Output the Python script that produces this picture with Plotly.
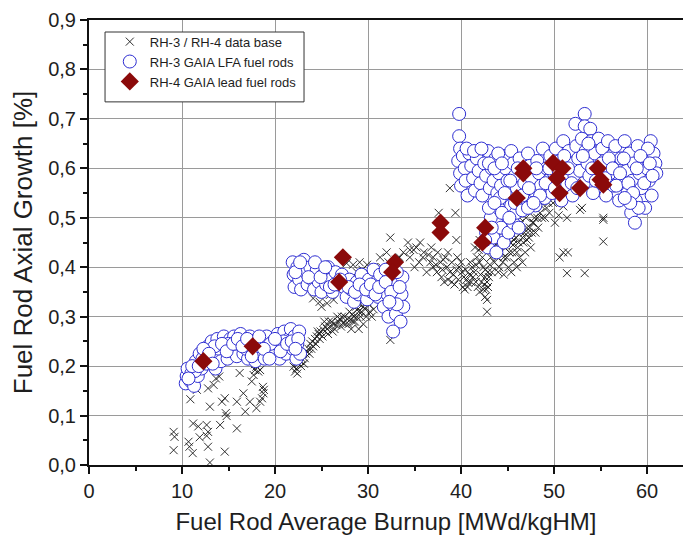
import plotly.graph_objects as go

# ---------------- data ----------------
# RH-3 / RH-4 data base (crosses)
db_x = [9.1, 9.2, 9.1, 10.7, 10.8, 11.15, 10.9, 11.2, 11.75, 11.9, 12.65, 12.8, 12.65, 12.8, 13.0,
        11.6, 12.8, 13.4, 13.0, 14.1, 14.3, 14.6, 14.0, 13.65, 14.7, 14.8, 14.6, 15.9, 15.9, 16.2,
        16.6, 16.8, 17.3, 17.5, 17.7, 17.85, 18.0, 18.0, 18.2, 18.4, 18.7, 18.8, 18.6, 18.4, 17.85, 18.75,
        22.0, 22.15, 22.3, 22.5, 22.7, 22.9, 23.0, 23.2, 23.4, 23.6, 23.8, 24.1, 24.3, 24.5, 24.7,
        24.9, 25.2, 25.4, 25.6, 25.9, 26.1, 26.3, 26.6, 26.8, 27.0, 27.3, 27.5, 27.8, 28.1, 28.3,
        28.5, 28.8, 29.0, 29.3, 29.5, 29.7, 29.9, 30.1, 30.3, 29.6, 29.2, 28.6, 27.9, 27.1, 26.4,
        25.7, 24.8, 23.9, 23.1,
        22.4, 22.8, 23.3, 23.7, 24.0, 24.4, 24.6, 25.1, 25.3, 25.8, 26.2, 26.7, 27.2, 27.6, 28.0,
        28.4, 28.9, 29.1, 29.4, 29.8, 30.0, 30.2, 28.7, 29.5, 30.4, 29.0, 28.2, 30.6,
        24.1, 24.8, 25.6, 26.3, 25.9, 25.0, 26.0, 26.3, 27.7, 28.4, 29.1, 29.9, 30.6, 31.3, 32.0,
        32.4, 34.3, 34.5, 33.4, 29.9, 28.8, 27.0, 32.4, 28.0, 28.5, 29.4, 30.3, 30.9, 31.5, 32.2,
        33.0, 33.8, 35.2, 35.6, 31.0, 30.5, 29.4, 31.4,
        38.8, 39.4, 37.6, 34.9, 35.9, 36.7, 36.3, 38.1, 38.5, 38.8, 39.5, 39.5, 40.6, 40.8, 41.7,
        42.0, 42.4, 42.6, 42.8, 41.9, 42.8, 42.8,
        36.0, 36.5, 37.0, 37.3, 37.8, 38.3, 38.0, 39.0, 39.2, 39.8, 40.1, 40.3, 40.5, 40.9, 41.2,
        41.4, 41.6, 42.1, 42.3, 42.6, 42.9, 43.1, 42.7, 42.5, 37.5, 36.8, 35.5, 34.5, 35.0, 40.0,
        41.0, 39.6, 38.6,
        37.0, 37.4, 37.9, 38.2, 38.6, 39.0, 39.3, 39.7, 40.2, 40.4, 40.7, 41.1, 41.3, 41.6, 41.8,
        42.0, 42.2, 42.4, 42.6, 42.9, 43.0, 43.2, 43.3, 42.2, 42.0, 41.5,
        43.6, 43.9, 44.1, 44.3, 44.5, 44.7, 44.9, 45.1, 45.3, 45.5, 45.7, 45.9, 46.1, 46.3, 46.5,
        46.7, 46.9, 47.1, 47.3, 47.5, 47.7, 47.4, 47.8, 48.0, 48.2, 48.5, 48.9, 49.5, 49.9, 50.1,
        50.5, 51.0, 51.4, 52.8, 53.0, 55.3, 55.3, 55.3, 50.6, 51.0, 51.5, 51.4, 53.3, 44.0, 44.6,
        45.4, 46.0, 46.6, 43.4, 44.2, 45.0, 45.8, 46.4, 47.0, 48.6, 49.2, 45.6, 44.8,
        43.8, 44.0, 44.4, 44.6, 44.9, 45.2, 45.4, 45.7, 46.0, 46.2, 46.6, 46.8, 47.1, 47.2, 47.6,
        47.9, 48.3, 48.7, 49.0, 49.4, 46.3, 45.3, 44.5, 43.7]
db_y = [0.067, 0.057, 0.030, 0.047, 0.037, 0.024, 0.133, 0.084, 0.078, 0.056, 0.081, 0.067, 0.059, 0.037, 0.005,
        0.152, 0.155, 0.162, 0.118, 0.081, 0.128, 0.135, 0.179, 0.175, 0.105, 0.099, 0.027, 0.128, 0.074, 0.186,
        0.145, 0.108, 0.128, 0.169, 0.182, 0.192, 0.199, 0.115, 0.189, 0.192, 0.158, 0.152, 0.135, 0.128, 0.204, 0.145,
        0.199, 0.189, 0.195, 0.205, 0.210, 0.215, 0.225, 0.216, 0.230, 0.235, 0.245, 0.240, 0.255, 0.260, 0.265,
        0.270, 0.273, 0.280, 0.275, 0.280, 0.290, 0.285, 0.283, 0.290, 0.295, 0.287, 0.300, 0.295, 0.294, 0.305,
        0.300, 0.300, 0.310, 0.310, 0.320, 0.315, 0.330, 0.325, 0.340, 0.335, 0.300, 0.290, 0.285, 0.280, 0.275,
        0.265, 0.255, 0.235, 0.205,
        0.185, 0.200, 0.225, 0.225, 0.250, 0.245, 0.270, 0.260, 0.290, 0.290, 0.270, 0.300, 0.300, 0.285, 0.310,
        0.290, 0.315, 0.325, 0.330, 0.300, 0.340, 0.310, 0.320, 0.285, 0.300, 0.275, 0.275, 0.315,
        0.337, 0.330, 0.327, 0.334, 0.344, 0.320, 0.350, 0.380, 0.408, 0.405, 0.410, 0.405, 0.400, 0.420, 0.430,
        0.460, 0.450, 0.435, 0.420, 0.390, 0.390, 0.380, 0.253, 0.370, 0.380, 0.395, 0.385, 0.390, 0.400, 0.410,
        0.415, 0.430, 0.440, 0.450, 0.350, 0.360, 0.355, 0.370,
        0.560, 0.510, 0.510, 0.435, 0.420, 0.410, 0.390, 0.415, 0.400, 0.390, 0.395, 0.455, 0.375, 0.368, 0.420,
        0.410, 0.400, 0.380, 0.370, 0.435, 0.334, 0.310,
        0.430, 0.425, 0.420, 0.405, 0.410, 0.420, 0.395, 0.410, 0.385, 0.400, 0.390, 0.380, 0.395, 0.385, 0.400,
        0.390, 0.405, 0.385, 0.420, 0.395, 0.390, 0.405, 0.355, 0.365, 0.430, 0.440, 0.410, 0.420, 0.400, 0.410,
        0.410, 0.420, 0.430,
        0.400, 0.390, 0.380, 0.370, 0.375, 0.370, 0.365, 0.375, 0.360, 0.355, 0.360, 0.370, 0.380, 0.370, 0.360,
        0.350, 0.370, 0.355, 0.340, 0.360, 0.380, 0.420, 0.390, 0.440, 0.455, 0.440,
        0.410, 0.420, 0.400, 0.430, 0.410, 0.440, 0.420, 0.400, 0.450, 0.430, 0.410, 0.460, 0.440, 0.420, 0.470,
        0.450, 0.430, 0.480, 0.460, 0.440, 0.490, 0.480, 0.490, 0.470, 0.500, 0.510, 0.543, 0.510, 0.530, 0.490,
        0.505, 0.523, 0.500, 0.516, 0.520, 0.500, 0.496, 0.452, 0.420, 0.430, 0.430, 0.388, 0.388, 0.390, 0.385,
        0.390, 0.400, 0.410, 0.440, 0.455, 0.470, 0.480, 0.490, 0.500, 0.525, 0.520, 0.445, 0.450,
        0.445, 0.430, 0.470, 0.420, 0.460, 0.430, 0.470, 0.455, 0.430, 0.450, 0.460, 0.470, 0.455, 0.470, 0.470,
        0.500, 0.480, 0.500, 0.500, 0.530, 0.500, 0.480, 0.480, 0.460]

# RH-3 GAIA LFA fuel rods (open circles)
lfa_x = [10.4, 10.5, 10.6, 10.9, 11.0, 11.2, 11.3, 11.5, 11.7, 11.9, 12.1, 12.4, 12.6, 12.8, 13.0,
         13.2, 13.4, 13.6, 13.8, 14.0, 14.2, 14.5, 14.7, 14.9, 15.2, 15.4, 15.6, 15.9, 16.1, 16.3,
         16.6, 16.8, 17.1, 17.3, 17.6, 17.9, 18.1, 18.4, 18.6, 18.9, 19.1, 19.3, 19.6, 19.8, 20.1,
         20.3, 20.5, 20.8, 21.0, 21.2, 21.5, 21.7, 21.9, 22.1, 22.3, 22.4, 22.6, 22.7,
         13.5, 15.0, 16.9, 18.0, 19.5, 20.9, 12.2, 11.4,
         10.7, 11.1, 11.8, 12.3, 12.9, 13.3, 14.3, 14.8, 15.5, 16.0, 16.5, 17.0, 17.5, 18.3, 18.8,
         19.4, 20.0, 20.6, 21.3, 21.8, 22.5, 22.2,
         21.9, 22.0, 22.1, 22.4, 22.6, 22.8, 23.1, 23.3, 23.5, 23.8, 24.0, 24.2, 24.5, 24.7, 25.0,
         25.2, 25.5, 25.7, 26.0, 26.2, 26.5, 26.8,
         27.2, 27.4, 27.7, 28.0, 28.2, 28.5, 28.8, 29.0, 29.3, 29.6, 29.9, 30.1, 30.4, 30.6, 30.9,
         31.1, 31.3, 31.5, 31.7, 31.9, 32.1, 32.2, 32.4, 32.6, 32.8, 32.9, 33.0, 33.2, 33.3, 33.5,
         33.6, 33.7, 32.7,
         22.2, 22.7, 23.6, 24.3, 24.9, 25.4, 25.9, 26.4, 27.0, 27.9, 28.6, 29.1, 29.8, 30.3, 30.8,
         31.2, 31.9, 32.5, 33.1, 33.4, 33.8, 33.1, 32.3,
         39.8, 39.8, 39.9, 39.7, 39.9, 40.0, 40.2, 40.4, 40.5, 40.7, 40.9, 41.1, 41.3, 41.5, 41.7,
         41.9, 42.1, 42.3, 42.5, 42.7, 42.9, 43.1, 43.3, 43.5, 43.7, 43.9, 44.1, 44.3,
         42.7, 42.9, 43.2, 43.5, 43.8, 44.0, 44.3, 44.6, 44.9, 45.1, 45.4, 45.6, 45.9, 46.2, 46.4,
         44.6, 44.8, 45.0, 45.2, 45.4, 45.6, 45.8, 46.0, 46.3, 46.5, 46.8, 47.0, 47.2, 47.4, 47.6,
         47.8, 48.0, 48.2, 48.4, 48.6, 48.8, 49.0, 49.2, 49.4, 49.6, 49.8, 50.0,
         50.2, 50.4, 50.6, 50.8, 51.0, 51.2, 51.4, 51.6, 51.8, 52.0, 52.2, 52.3, 52.4, 52.6, 52.8,
         53.0, 53.3, 53.3, 53.2, 53.4, 53.6, 53.9, 53.8, 54.0, 54.2, 54.4, 54.6, 54.8, 55.0, 55.2,
         55.4, 55.6, 55.8, 56.0, 56.2, 56.4,
         56.6, 56.8, 57.0, 57.2, 57.4, 57.6, 57.8, 57.9, 58.1, 58.3, 58.4, 58.6, 58.7, 58.8, 59.0,
         59.2, 59.4, 59.6, 59.8, 60.0, 60.2, 60.4, 60.5, 60.7, 60.9, 61.0, 60.1,
         40.6, 41.4, 42.2, 43.0, 43.6, 44.0, 44.4, 44.2, 44.7, 45.3, 46.1, 46.6, 47.3, 48.1, 48.5,
         49.1, 49.5, 50.1, 50.5, 51.1, 51.5, 51.9, 52.5, 53.1, 53.7, 54.1, 54.5, 55.1, 55.5, 55.9,
         56.3, 56.7, 57.1, 57.5, 58.0, 58.5, 58.9, 59.3, 59.7, 60.3, 60.6, 59.1, 58.2, 57.6,
         43.0, 43.6, 44.4, 45.2, 45.8, 46.6, 47.2, 47.8, 43.3, 42.6]
lfa_y = [0.165, 0.180, 0.195, 0.170, 0.185, 0.200, 0.160, 0.210, 0.180, 0.225, 0.195, 0.230, 0.205, 0.240, 0.215,
         0.250, 0.225, 0.195, 0.255, 0.235, 0.210, 0.260, 0.240, 0.215, 0.255, 0.230, 0.260, 0.220, 0.245, 0.265,
         0.225, 0.250, 0.215, 0.260, 0.235, 0.210, 0.255, 0.225, 0.245, 0.215, 0.260, 0.235, 0.220, 0.250, 0.230,
         0.265, 0.215, 0.245, 0.270, 0.225, 0.255, 0.275, 0.235, 0.260, 0.215, 0.245, 0.270, 0.225,
         0.240, 0.245, 0.235, 0.240, 0.245, 0.250, 0.215, 0.190,
         0.175, 0.200, 0.200, 0.235, 0.225, 0.205, 0.245, 0.230, 0.245, 0.255, 0.240, 0.255, 0.220, 0.260, 0.235,
         0.215, 0.255, 0.230, 0.245, 0.250, 0.255, 0.235,
         0.410, 0.385, 0.360, 0.400, 0.375, 0.355, 0.415, 0.390, 0.365, 0.400, 0.375, 0.355, 0.395, 0.370, 0.350,
         0.385, 0.365, 0.400, 0.375, 0.350, 0.390, 0.365,
         0.385, 0.360, 0.340, 0.375, 0.355, 0.330, 0.370, 0.345, 0.385, 0.360, 0.335, 0.375, 0.350, 0.395, 0.370,
         0.340, 0.385, 0.360, 0.320, 0.395, 0.345, 0.300, 0.370, 0.325, 0.385, 0.350, 0.305, 0.365, 0.330, 0.290,
         0.345, 0.380, 0.270,
         0.390, 0.410, 0.380, 0.410, 0.380, 0.400, 0.360, 0.365, 0.375, 0.360, 0.350, 0.365, 0.355, 0.365, 0.345,
         0.360, 0.370, 0.350, 0.390, 0.360, 0.320, 0.325, 0.330,
         0.710, 0.665, 0.640, 0.615, 0.590, 0.565, 0.625, 0.600, 0.575, 0.545, 0.630, 0.605, 0.580, 0.555, 0.620,
         0.595, 0.570, 0.545, 0.610, 0.585, 0.635, 0.560, 0.600, 0.575, 0.620, 0.550, 0.590, 0.565,
         0.470, 0.440, 0.500, 0.460, 0.430, 0.520, 0.480, 0.450, 0.505, 0.470, 0.525, 0.490, 0.510, 0.480, 0.530,
         0.625, 0.600, 0.575, 0.550, 0.635, 0.610, 0.585, 0.560, 0.620, 0.595, 0.570, 0.545, 0.630, 0.605, 0.580,
         0.555, 0.525, 0.615, 0.590, 0.565, 0.640, 0.540, 0.600, 0.575, 0.625, 0.550, 0.590,
         0.640, 0.565, 0.615, 0.535, 0.655, 0.590, 0.565, 0.635, 0.610, 0.545, 0.585, 0.690, 0.645, 0.620, 0.595,
         0.660, 0.710, 0.685, 0.570, 0.635, 0.610, 0.680, 0.585, 0.655, 0.550, 0.630, 0.600, 0.660, 0.575, 0.640,
         0.615, 0.545, 0.655, 0.590, 0.625, 0.565,
         0.645, 0.600, 0.535, 0.620, 0.570, 0.655, 0.595, 0.550, 0.630, 0.510, 0.575, 0.610, 0.490, 0.535, 0.645,
         0.590, 0.560, 0.625, 0.520, 0.600, 0.575, 0.655, 0.545, 0.630, 0.610, 0.590, 0.640,
         0.640, 0.635, 0.640, 0.610, 0.600, 0.630, 0.610, 0.540, 0.550, 0.575, 0.600, 0.545, 0.560, 0.600, 0.545,
         0.570, 0.600, 0.560, 0.595, 0.625, 0.600, 0.570, 0.560, 0.625, 0.650, 0.600, 0.575, 0.610, 0.580, 0.620,
         0.600, 0.565, 0.590, 0.620, 0.570, 0.550, 0.600, 0.625, 0.570, 0.610, 0.585, 0.520, 0.530, 0.540,
         0.520, 0.530, 0.510, 0.500, 0.530, 0.515, 0.520, 0.530, 0.480, 0.455]

# RH-4 GAIA lead fuel rods (diamonds)
lead_x = [12.3, 17.6, 27.3, 26.9, 32.9, 32.6, 37.8, 37.8, 42.6, 42.3, 46.0, 46.7, 46.7,
          49.9, 50.9, 50.3, 50.6, 52.8, 54.7, 55.0, 55.3]
lead_y = [0.21, 0.24, 0.42, 0.37, 0.41, 0.39, 0.49, 0.47, 0.48, 0.45, 0.54, 0.60, 0.59,
          0.611, 0.60, 0.58, 0.55, 0.56, 0.60, 0.577, 0.567]

series_names = ["RH-3 / RH-4 data base", "RH-3 GAIA LFA fuel rods", "RH-4 GAIA lead fuel rods"]

x_ticks = [0, 10, 20, 30, 40, 50, 60]
x_ticklabels = ["0", "10", "20", "30", "40", "50", "60"]
x_minor = [5, 15, 25, 35, 45, 55]
y_ticks = [0.0, 0.1, 0.2, 0.3, 0.4, 0.5, 0.6, 0.7, 0.8, 0.9]
y_ticklabels = ["0,0", "0,1", "0,2", "0,3", "0,4", "0,5", "0,6", "0,7", "0,8", "0,9"]
y_minor = [0.05, 0.15, 0.25, 0.35, 0.45, 0.55, 0.65, 0.75, 0.85]

# ---------------- figure ----------------
FONT = "Liberation Sans, Arial, sans-serif"
TXT = "#1e1e1e"
fig = go.Figure()

fig.add_trace(go.Scatter(
    x=db_x, y=db_y, mode="markers", name=series_names[0],
    marker=dict(symbol="x-thin-open", size=8, color="rgba(25,25,25,0.9)",
                line=dict(width=1, color="rgba(25,25,25,0.9)")),
))
fig.add_trace(go.Scatter(
    x=lfa_x, y=lfa_y, mode="markers", name=series_names[1],
    marker=dict(symbol="circle", size=13, color="white",
                line=dict(width=1, color="#2f2fd2")),
))
fig.add_trace(go.Scatter(
    x=lead_x, y=lead_y, mode="markers", name=series_names[2],
    marker=dict(symbol="diamond", size=14, color="#8b0a0a",
                line=dict(width=0)),
))

# legend frame
fig.add_shape(type="rect", xref="paper", yref="paper",
              x0=0.027, x1=0.362, y0=0.816, y1=0.973,
              fillcolor="white", line=dict(color="#333", width=1), layer="above")

fig.update_layout(
    width=683, height=538,
    margin=dict(l=89, r=0, t=20, b=73),
    paper_bgcolor="white", plot_bgcolor="white",
    font=dict(family=FONT, color=TXT),
    showlegend=True,
    legend=dict(x=0.035, y=0.985, xanchor="left", yanchor="top",
                bgcolor="rgba(0,0,0,0)", borderwidth=0,
                font=dict(size=13, family=FONT, color=TXT),
                tracegroupgap=0, itemsizing="trace"),
    xaxis=dict(
        range=[0, 63.87], tickvals=x_ticks, ticktext=x_ticklabels,
        showgrid=True, gridcolor="#9a9a9a", gridwidth=1, zeroline=False,
        showline=True, linecolor="#111", linewidth=2, mirror=True,
        ticks="outside", ticklen=7, tickwidth=2, tickcolor="#111",
        minor=dict(tickvals=x_minor, ticks="outside", ticklen=4,
                   tickwidth=2, tickcolor="#111", showgrid=False),
        tickfont=dict(size=20, family=FONT, color=TXT),
        title=dict(text="Fuel Rod Average Burnup [MWd/kgHM]",
                   font=dict(size=24, family=FONT, color=TXT), standoff=12),
    ),
    yaxis=dict(
        range=[0, 0.9], tickvals=y_ticks, ticktext=y_ticklabels,
        showgrid=True, gridcolor="#9a9a9a", gridwidth=1, zeroline=False,
        showline=True, linecolor="#111", linewidth=2,
        ticks="outside", ticklen=7, tickwidth=2, tickcolor="#111",
        minor=dict(tickvals=y_minor, ticks="outside", ticklen=4,
                   tickwidth=2, tickcolor="#111", showgrid=False),
        tickfont=dict(size=20, family=FONT, color=TXT),
        title=dict(text="Fuel Rod Axial Growth [%]",
                   font=dict(size=26, family=FONT, color=TXT), standoff=8),
    ),
)

fig.write_html("out.html")
